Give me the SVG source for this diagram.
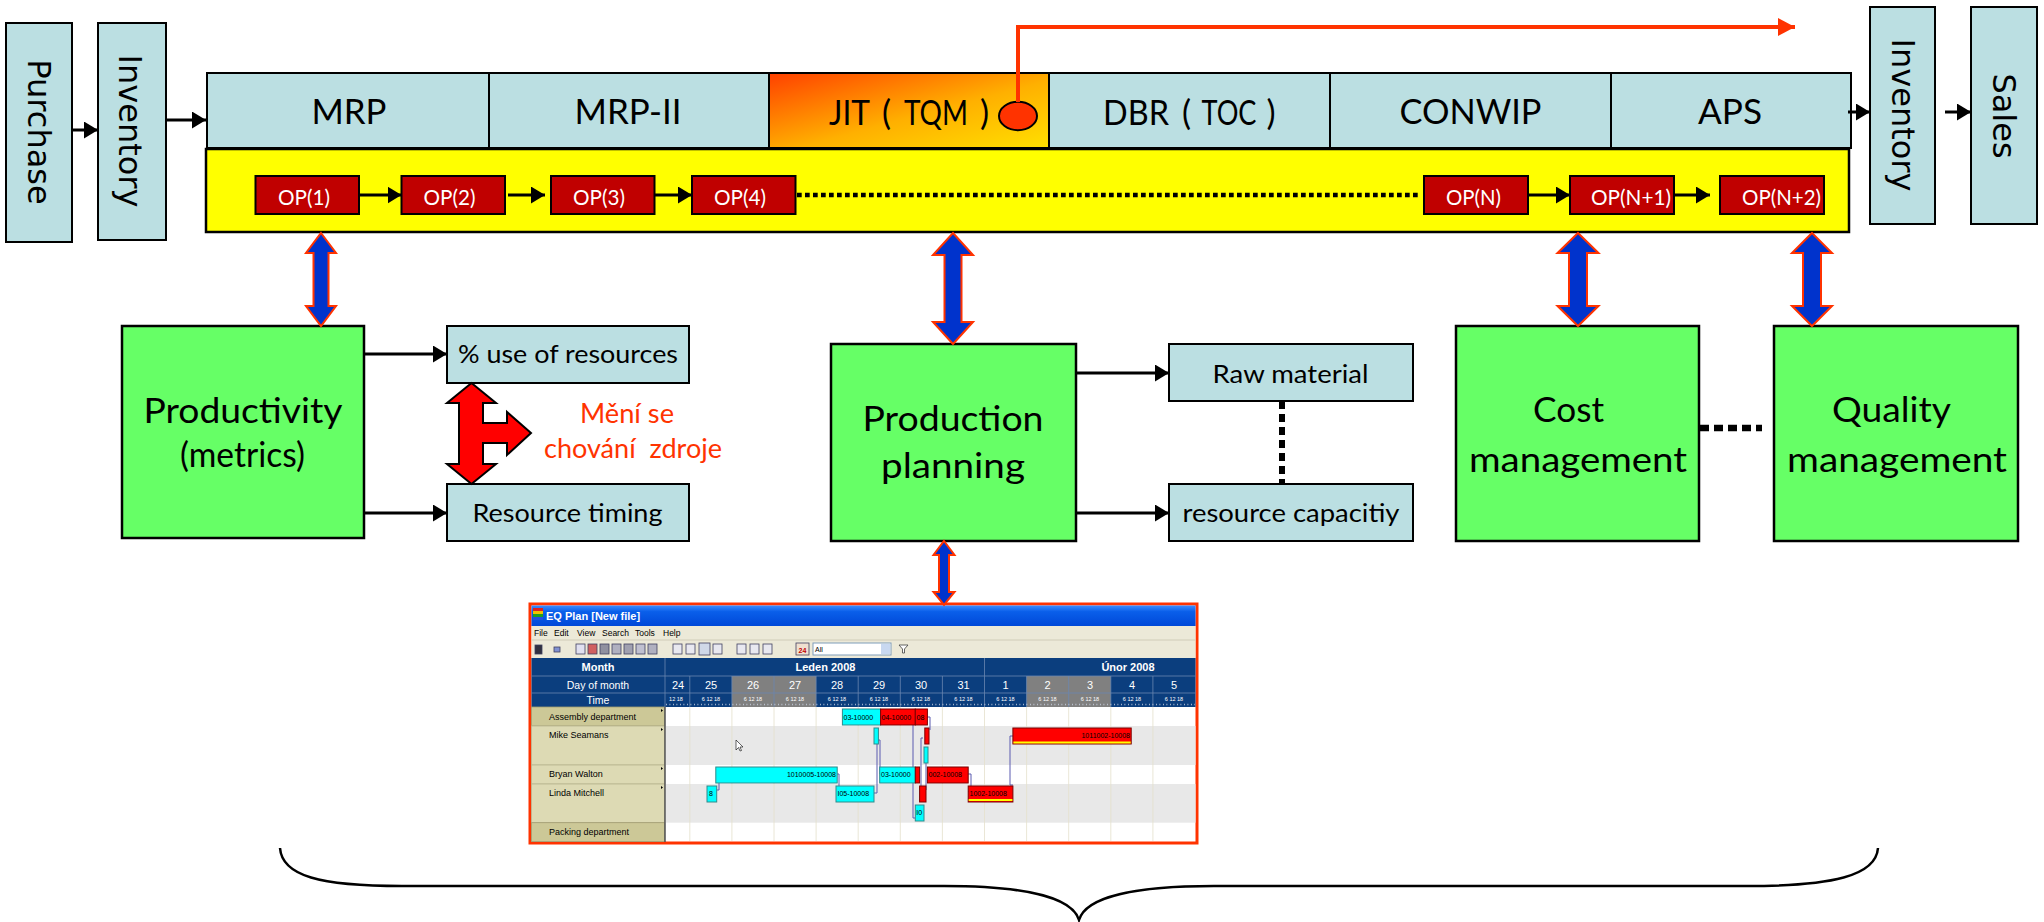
<svg xmlns="http://www.w3.org/2000/svg" width="2044" height="922" viewBox="0 0 2044 922">
<defs>
  <style>
    .lb{fill:#BBDFE2;stroke:#000;stroke-width:2}
    .gr{fill:#66FF66;stroke:#000;stroke-width:2.5}
    .op{fill:#C00000;stroke:#000;stroke-width:2}
    .opt{font-family:Lato,"Liberation Sans",sans-serif;font-size:22px;fill:#fff}
    .big{font-family:Lato,"Liberation Sans",sans-serif;font-size:34px;fill:#000}
    .mid{font-family:Lato,"Liberation Sans",sans-serif;font-size:25px;fill:#000}
    .vt{font-family:"DejaVu Sans",sans-serif;font-size:32px;fill:#000;text-anchor:middle;dominant-baseline:central}
    .blk{fill:none;stroke:#000;stroke-width:3}
    .dbl{fill:#0033CC;stroke:#FF3300;stroke-width:2}
    .ss{font-family:"Liberation Sans",Arial,sans-serif}
    .cy{fill:#00FFFF;stroke:#2E8B8B;stroke-width:1}
    .rd{fill:#FF0000;stroke:#7A0000;stroke-width:1}
    .bt{font-family:"Liberation Sans",Arial,sans-serif;font-size:7px;fill:#000}
    .lk{fill:none;stroke:#5A5AB0;stroke-width:1}
  </style>
  <marker id="ah" markerUnits="userSpaceOnUse" markerWidth="15" markerHeight="17" refX="14" refY="8.5" orient="auto">
    <path d="M0,0 L14,8.5 L0,17 z" fill="#000"/>
  </marker>
  <marker id="ahr" markerUnits="userSpaceOnUse" markerWidth="18" markerHeight="18" refX="17" refY="9" orient="auto">
    <path d="M0,0 L17,9 L0,18 z" fill="#FF3300"/>
  </marker>
  <linearGradient id="jit" x1="0" y1="0" x2="1" y2="1">
    <stop offset="0" stop-color="#FF4000"/>
    <stop offset="0.55" stop-color="#FFB000"/>
    <stop offset="1" stop-color="#FFE000"/>
  </linearGradient>
  <linearGradient id="tb" x1="0" y1="0" x2="0" y2="1">
    <stop offset="0" stop-color="#3C8CFF"/>
    <stop offset="0.3" stop-color="#0A5FEA"/>
    <stop offset="1" stop-color="#0048D8"/>
  </linearGradient>
</defs>
<rect width="2044" height="922" fill="#fff"/>

<!-- left / right stock boxes -->
<g id="purchase">
  <rect class="lb" x="6" y="23" width="66" height="219"/>
  <text class="vt" transform="translate(39,132) rotate(90)">Purchase</text>
</g>
<g id="inventory-in">
  <rect class="lb" x="98" y="23" width="68" height="217"/>
  <text class="vt" transform="translate(130,131) rotate(90)">Inventory</text>
</g>
<g id="inventory-out">
  <rect class="lb" x="1870" y="7" width="65" height="217"/>
  <text class="vt" transform="translate(1902.5,115) rotate(90)">Inventory</text>
</g>
<g id="sales">
  <rect class="lb" x="1971" y="7" width="66" height="217"/>
  <text class="vt" transform="translate(2004,116) rotate(90)">Sales</text>
</g>

<!-- top method bar -->
<g id="mrp">
  <rect class="lb" x="207" y="73" width="282" height="75"/>
  <text class="big" x="311.5" y="124" textLength="75" lengthAdjust="spacingAndGlyphs">MRP</text>
</g>
<g id="mrp2">
  <rect class="lb" x="489" y="73" width="280" height="75"/>
  <text class="big" x="574.5" y="124" textLength="107" lengthAdjust="spacingAndGlyphs">MRP-II</text>
</g>
<g id="jit-tqm">
  <rect x="769" y="73" width="280" height="75" fill="url(#jit)" stroke="#000" stroke-width="2"/>
  <text class="big" x="829" y="125" textLength="41" lengthAdjust="spacingAndGlyphs">JIT</text>
  <text class="big" x="882" y="125">(</text>
  <text class="big" x="904" y="125" font-size="28" textLength="64" lengthAdjust="spacingAndGlyphs">TQM</text>
  <text class="big" x="980" y="125">)</text>
  <ellipse cx="1018" cy="116" rx="19" ry="14.2" fill="#FF3300" stroke="#000" stroke-width="2"/>
</g>
<g id="dbr">
  <rect class="lb" x="1049" y="73" width="281" height="75"/>
  <text class="big" x="1103" y="125" textLength="66" lengthAdjust="spacingAndGlyphs">DBR</text>
  <text class="big" x="1182" y="125">(</text>
  <text class="big" x="1201.5" y="125" font-size="28" textLength="55" lengthAdjust="spacingAndGlyphs">TOC</text>
  <text class="big" x="1266.5" y="125">)</text>
</g>
<g id="conwip">
  <rect class="lb" x="1330" y="73" width="281" height="75"/>
  <text class="big" x="1399.5" y="124" textLength="142" lengthAdjust="spacingAndGlyphs">CONWIP</text>
</g>
<g id="aps">
  <rect class="lb" x="1611" y="73" width="240" height="75"/>
  <text class="big" x="1698" y="124" textLength="64" lengthAdjust="spacingAndGlyphs">APS</text>
</g>

<!-- yellow operation bar -->
<g id="operations">
  <rect x="206" y="149" width="1643" height="83" fill="#FFFF00" stroke="#000" stroke-width="2.5"/>
</g>
<g id="op1"><rect class="op" x="255.5" y="176" width="103.5" height="38"/><text class="opt" x="278" y="205" textLength="52" lengthAdjust="spacingAndGlyphs">OP(1)</text></g>
<g id="op2"><rect class="op" x="401.5" y="176" width="103.5" height="38"/><text class="opt" x="423.5" y="205" textLength="52" lengthAdjust="spacingAndGlyphs">OP(2)</text></g>
<g id="op3"><rect class="op" x="551" y="176" width="103.5" height="38"/><text class="opt" x="573" y="205" textLength="52" lengthAdjust="spacingAndGlyphs">OP(3)</text></g>
<g id="op4"><rect class="op" x="692" y="176" width="103.5" height="38"/><text class="opt" x="714" y="205" textLength="52" lengthAdjust="spacingAndGlyphs">OP(4)</text></g>
<g id="opn"><rect class="op" x="1424" y="176" width="104" height="38"/><text class="opt" x="1446" y="205" textLength="55" lengthAdjust="spacingAndGlyphs">OP(N)</text></g>
<g id="opn1"><rect class="op" x="1570" y="176" width="104" height="38"/><text class="opt" x="1591" y="205" textLength="80" lengthAdjust="spacingAndGlyphs">OP(N+1)</text></g>
<g id="opn2"><rect class="op" x="1720" y="176" width="104" height="38"/><text class="opt" x="1742" y="205" textLength="79" lengthAdjust="spacingAndGlyphs">OP(N+2)</text></g>

<!-- lower boxes -->
<g id="productivity">
  <rect class="gr" x="122" y="326" width="242" height="212"/>
  <text class="big" x="143.5" y="423" textLength="199" lengthAdjust="spacingAndGlyphs">Productivity</text>
  <text class="big" x="180" y="467" font-size="30" textLength="125" lengthAdjust="spacingAndGlyphs">(metrics)</text>
</g>
<g id="use-of-resources">
  <rect class="lb" x="447" y="326" width="242" height="57"/>
  <text class="mid" x="458" y="363" textLength="220" lengthAdjust="spacingAndGlyphs">% use of resources</text>
</g>
<g id="resource-timing">
  <rect class="lb" x="447" y="484" width="242" height="57"/>
  <text class="mid" x="472.5" y="522" textLength="190" lengthAdjust="spacingAndGlyphs">Resource timing</text>
</g>
<g id="behaviour-change">
  <polygon points="471.5,383 496,403 483,403 483,423 507,423 507,412 531,433 507,455 507,443 483,443 483,464 496,464 471.5,484 447,464 459,464 459,403 447,403" fill="#FF0000" stroke="#000" stroke-width="2"/>
  <text x="580" y="423" font-family="Lato,'Liberation Sans',sans-serif" font-size="26" fill="#FF3300" textLength="94" lengthAdjust="spacingAndGlyphs">Mění se</text>
  <text x="544" y="458" font-family="Lato,'Liberation Sans',sans-serif" font-size="26" fill="#FF3300" textLength="178" lengthAdjust="spacingAndGlyphs" xml:space="preserve">chování  zdroje</text>
</g>
<g id="production-planning">
  <rect class="gr" x="831" y="344" width="245" height="197"/>
  <text class="big" x="862.5" y="431" font-size="36" textLength="181" lengthAdjust="spacingAndGlyphs">Production</text>
  <text class="big" x="881" y="478" font-size="36" textLength="144" lengthAdjust="spacingAndGlyphs">planning</text>
</g>
<g id="raw-material">
  <rect class="lb" x="1169" y="344" width="244" height="57"/>
  <text class="mid" x="1212.5" y="383" textLength="156" lengthAdjust="spacingAndGlyphs">Raw material</text>
</g>
<g id="resource-capacity">
  <rect class="lb" x="1169" y="484" width="244" height="57"/>
  <text class="mid" x="1182.5" y="522" textLength="217" lengthAdjust="spacingAndGlyphs">resource capacitiy</text>
</g>
<g id="cost-management">
  <rect class="gr" x="1456" y="326" width="243" height="215"/>
  <text class="big" x="1533" y="422" font-size="36" textLength="71" lengthAdjust="spacingAndGlyphs">Cost</text>
  <text class="big" x="1469" y="471.5" font-size="36" textLength="218" lengthAdjust="spacingAndGlyphs">management</text>
</g>
<g id="quality-management">
  <rect class="gr" x="1774" y="326" width="244" height="215"/>
  <text class="big" x="1832" y="422" font-size="36" textLength="119" lengthAdjust="spacingAndGlyphs">Quality</text>
  <text class="big" x="1787" y="471.5" font-size="36" textLength="220" lengthAdjust="spacingAndGlyphs">management</text>
</g>

<!-- screenshot -->
<g id="eq-plan-screenshot">
  <rect x="530" y="604" width="667" height="239" fill="#fff" stroke="#FF3300" stroke-width="3"/>
  <rect x="531.5" y="605.5" width="664" height="20.5" fill="url(#tb)"/>
  <rect x="533" y="608" width="10" height="3" fill="#E02020"/>
  <rect x="533" y="611" width="10" height="3" fill="#F0C000"/>
  <rect x="533" y="614" width="10" height="3" fill="#20A020"/>
  <rect x="533" y="617" width="10" height="3" fill="#2050E0"/>
  <text class="ss" x="546" y="620" font-size="11" font-weight="bold" fill="#fff">EQ Plan [New file]</text>
  <rect x="531.5" y="626" width="664" height="32" fill="#ECE9D8"/>
  <g class="ss" font-size="8.5" fill="#000">
    <text x="534" y="636">File</text><text x="554" y="636">Edit</text><text x="577" y="636">View</text><text x="602" y="636">Search</text><text x="635" y="636">Tools</text><text x="663" y="636">Help</text>
  </g>
  <line x1="531.5" y1="640" x2="1195.5" y2="640" stroke="#D0CCB8" stroke-width="1"/>
  <g stroke="#404060" stroke-width="0.8">
    <rect x="535" y="645" width="7" height="9" fill="#303040"/>
    <rect x="554" y="647" width="6" height="5" fill="#8090D0"/>
    <rect x="576" y="644" width="9" height="10" fill="#E0E0F0"/>
    <rect x="588" y="644" width="9" height="10" fill="#D06060"/>
    <rect x="600" y="644" width="9" height="10" fill="#9090A0"/>
    <rect x="612" y="644" width="9" height="10" fill="#B0B0C0"/>
    <rect x="624" y="644" width="9" height="10" fill="#A0A0B0"/>
    <rect x="636" y="644" width="9" height="10" fill="#C0C0D0"/>
    <rect x="648" y="644" width="9" height="10" fill="#B0B0C0"/>
    <rect x="673" y="644" width="9" height="10" fill="#E8E8F0"/>
    <rect x="686" y="644" width="9" height="10" fill="#E8E8F0"/>
    <rect x="699" y="643" width="11" height="12" fill="#D0D8E8"/>
    <rect x="713" y="644" width="9" height="10" fill="#E8E8F0"/>
    <rect x="737" y="644" width="9" height="10" fill="#E8E8F0"/>
    <rect x="750" y="644" width="9" height="10" fill="#E8E8F0"/>
    <rect x="763" y="644" width="9" height="10" fill="#E8E8F0"/>
    <rect x="796" y="643" width="13" height="12" fill="#F0E0D0"/>
  </g>
  <text class="ss" x="802.5" y="652.5" font-size="7" font-weight="bold" fill="#C00000" text-anchor="middle">24</text>
  <rect x="813" y="643" width="78" height="12" fill="#fff" stroke="#7F9DB9" stroke-width="1"/>
  <rect x="881" y="644" width="9" height="10" fill="#C8D8F0"/>
  <text class="ss" x="815" y="652" font-size="7" fill="#000">All</text>
  <path d="M899,645 h9 l-3.5,4 v4 h-2 v-4 z" fill="#fff" stroke="#404040" stroke-width="0.8"/>
  <rect x="531.5" y="658" width="664" height="49" fill="#0B3E7E"/>
  <rect x="731.9" y="676" width="84.2" height="31" fill="#808080"/>
  <rect x="1026.6" y="676" width="84.2" height="31" fill="#808080"/>
  <g stroke="#6A86B0" stroke-width="0.8">
    <line x1="531.5" y1="676" x2="1195.5" y2="676"/>
    <line x1="531.5" y1="693" x2="1195.5" y2="693"/>
    <line x1="665" y1="658" x2="665" y2="707"/>
    <line x1="984.5" y1="658" x2="984.5" y2="707"/>
    <line x1="689.8" y1="676" x2="689.8" y2="707"/><line x1="731.9" y1="676" x2="731.9" y2="707"/><line x1="774" y1="676" x2="774" y2="707"/><line x1="816.1" y1="676" x2="816.1" y2="707"/><line x1="858.2" y1="676" x2="858.2" y2="707"/><line x1="900.3" y1="676" x2="900.3" y2="707"/><line x1="942.4" y1="676" x2="942.4" y2="707"/><line x1="1026.6" y1="676" x2="1026.6" y2="707"/><line x1="1068.7" y1="676" x2="1068.7" y2="707"/><line x1="1110.8" y1="676" x2="1110.8" y2="707"/><line x1="1152.9" y1="676" x2="1152.9" y2="707"/>
  </g>
  <g class="ss" fill="#fff" text-anchor="middle">
    <text x="598" y="671" font-size="11" font-weight="bold">Month</text>
    <text x="598" y="688.5" font-size="10.5">Day of month</text>
    <text x="598" y="704" font-size="10.5">Time</text>
    <text x="825.5" y="671" font-size="11" font-weight="bold">Leden 2008</text>
    <text x="1128" y="671" font-size="11" font-weight="bold">Únor 2008</text>
    <g font-size="11">
      <text x="678" y="689">24</text><text x="711" y="689">25</text><text x="753" y="689">26</text><text x="795" y="689">27</text><text x="837" y="689">28</text><text x="879" y="689">29</text><text x="921" y="689">30</text><text x="963.5" y="689">31</text><text x="1005.5" y="689">1</text><text x="1047.5" y="689">2</text><text x="1090" y="689">3</text><text x="1132" y="689">4</text><text x="1174" y="689">5</text>
    </g>
    <g font-size="5.5">
      <text x="676" y="701">12 18</text><text x="711" y="701">6 12 18</text><text x="753" y="701">6 12 18</text><text x="795" y="701">6 12 18</text><text x="837" y="701">6 12 18</text><text x="879" y="701">6 12 18</text><text x="921" y="701">6 12 18</text><text x="963.5" y="701">6 12 18</text><text x="1005.5" y="701">6 12 18</text><text x="1047.5" y="701">6 12 18</text><text x="1090" y="701">6 12 18</text><text x="1132" y="701">6 12 18</text><text x="1174" y="701">6 12 18</text>
    </g>
  </g>
  <line x1="666" y1="704.5" x2="1195" y2="704.5" stroke="#C8D0E0" stroke-width="1.5" stroke-dasharray="0.8 2.7"/>
  <rect x="666" y="726" width="529.5" height="39" fill="#E8E8E8"/>
  <rect x="666" y="784" width="529.5" height="38.7" fill="#E8E8E8"/>
  <g stroke="#E4E0CC" stroke-width="0.8">
    <line x1="689.8" y1="707" x2="689.8" y2="841"/><line x1="731.9" y1="707" x2="731.9" y2="841"/><line x1="774" y1="707" x2="774" y2="841"/><line x1="816.1" y1="707" x2="816.1" y2="841"/><line x1="858.2" y1="707" x2="858.2" y2="841"/><line x1="900.3" y1="707" x2="900.3" y2="841"/><line x1="942.4" y1="707" x2="942.4" y2="841"/><line x1="984.5" y1="707" x2="984.5" y2="841"/><line x1="1026.6" y1="707" x2="1026.6" y2="841"/><line x1="1068.7" y1="707" x2="1068.7" y2="841"/><line x1="1110.8" y1="707" x2="1110.8" y2="841"/><line x1="1152.9" y1="707" x2="1152.9" y2="841"/>
  </g>
  <rect x="531.5" y="707" width="133" height="19" fill="#CCC897" stroke="#A09C70" stroke-width="0.8"/>
  <rect x="531.5" y="726" width="133" height="39" fill="#DDDAB4" stroke="#B8B490" stroke-width="0.8"/>
  <rect x="531.5" y="765" width="133" height="19" fill="#DDDAB4" stroke="#B8B490" stroke-width="0.8"/>
  <rect x="531.5" y="784" width="133" height="38.7" fill="#DDDAB4" stroke="#B8B490" stroke-width="0.8"/>
  <rect x="531.5" y="822.7" width="133" height="18.8" fill="#CCC897" stroke="#A09C70" stroke-width="0.8"/>
  <line x1="665" y1="707" x2="665" y2="842" stroke="#505050" stroke-width="1.5"/>
  <g class="ss" font-size="9" fill="#000">
    <text x="549" y="720">Assembly department</text>
    <text x="549" y="738">Mike Seamans</text>
    <text x="549" y="777">Bryan Walton</text>
    <text x="549" y="796">Linda Mitchell</text>
    <text x="549" y="835">Packing department</text>
  </g>
  <g fill="#000">
    <path d="M661,709 l2,1.5 l-2,1.5 z"/><path d="M661,728 l2,1.5 l-2,1.5 z"/><path d="M661,767 l2,1.5 l-2,1.5 z"/><path d="M661,786 l2,1.5 l-2,1.5 z"/>
  </g>
  <polyline class="lk" points="716.7,790 719,790 719,775 716,775"/>
  <polyline class="lk" points="837,774 839,774 839,790 836,792"/>
  <polyline class="lk" points="874,793 877,793 877,738 874,738"/>
  <polyline class="lk" points="878,740 880,740 880,774"/>
  <polyline class="lk" points="913,725 913,818 915,818"/>
  <polyline class="lk" points="927,717 930,717 930,730"/>
  <polyline class="lk" points="923,738 921,738 921,800 919,800"/>
  <polyline class="lk" points="926,760 926,790"/>
  <polyline class="lk" points="968,774 971,774 971,790 968,792"/>
  <polyline class="lk" points="1013,736 1010,736 1010,785 1013,785"/>
  <rect class="cy" x="842.4" y="709" width="38.2" height="16"/><text class="bt" x="843.5" y="720">03-10000</text>
  <rect class="rd" x="880.6" y="709" width="34.7" height="16"/><text class="bt" x="881.5" y="720">04-10000</text>
  <rect class="rd" x="915.3" y="709" width="12.1" height="16"/><text class="bt" x="916.5" y="720">08</text>
  <rect class="cy" x="874" y="728" width="4.4" height="16"/>
  <rect class="rd" x="924.8" y="728" width="4.2" height="16"/>
  <rect class="cy" x="924" y="747" width="4" height="16"/>
  <rect class="rd" x="1012.9" y="728" width="118.3" height="16"/><rect x="1013.4" y="741.5" width="117.3" height="2" fill="#FFFF00"/><text class="bt" x="1130" y="738" text-anchor="end">1011002-10008</text>
  <rect class="cy" x="715.8" y="767" width="121.4" height="16"/><text class="bt" x="836" y="777" text-anchor="end">1010005-10008</text>
  <rect class="cy" x="879.7" y="767" width="35.6" height="16"/><text class="bt" x="881" y="777">03-10000</text>
  <rect class="rd" x="915.3" y="767" width="4.3" height="16"/>
  <rect class="rd" x="927.4" y="767" width="40.8" height="16"/><text class="bt" x="928.5" y="777">002-10008</text>
  <rect class="cy" x="707" y="786" width="9.7" height="16"/><text class="bt" x="709" y="796">8</text>
  <rect class="cy" x="836" y="786" width="38" height="16"/><text class="bt" x="837.5" y="796">I05-10008</text>
  <rect class="rd" x="919.6" y="786" width="6.4" height="16"/>
  <rect class="rd" x="968.2" y="786" width="44.7" height="16"/><rect x="968.7" y="799" width="43.7" height="2" fill="#FFFF00"/><text class="bt" x="969.5" y="796">1002-10008</text>
  <rect class="cy" x="915.3" y="805" width="8.7" height="16"/><text class="bt" x="916.3" y="815">I0</text>
  <polygon points="736,740 736,750 738.5,747.5 740,751 741.5,750.5 740,747 743,747" fill="#fff" stroke="#000" stroke-width="0.6"/>
</g>

<!-- brace -->
<g id="brace">
  <path d="M280,848 C282,876 320,886 402,886 L944,886 C1020,886 1072,896 1079,920 C1086,896 1138,886 1214,886 L1747,886 C1832,886 1876,876 1878,848" fill="none" stroke="#000" stroke-width="2.5"/>
</g>

<!-- connectors -->
<g id="connectors">
  <line class="blk" x1="72" y1="130" x2="98" y2="130" marker-end="url(#ah)"/>
  <line class="blk" x1="167" y1="120" x2="206" y2="120" marker-end="url(#ah)"/>
  <line class="blk" x1="1848" y1="112" x2="1870" y2="112" marker-end="url(#ah)"/>
  <line class="blk" x1="1945" y1="112" x2="1971" y2="112" marker-end="url(#ah)"/>
  <path d="M1018,102 V27 H1795" fill="none" stroke="#FF3300" stroke-width="4" marker-end="url(#ahr)"/>
  <line class="blk" x1="359" y1="195" x2="401.5" y2="195" marker-end="url(#ah)"/>
  <line class="blk" x1="508" y1="195" x2="545" y2="195" marker-end="url(#ah)"/>
  <line class="blk" x1="654.5" y1="195" x2="692" y2="195" marker-end="url(#ah)"/>
  <line x1="797" y1="195" x2="1421" y2="195" stroke="#000" stroke-width="4.5" stroke-dasharray="4.7 3.3"/>
  <line class="blk" x1="1528" y1="195" x2="1570" y2="195" marker-end="url(#ah)"/>
  <line class="blk" x1="1674" y1="195" x2="1710" y2="195" marker-end="url(#ah)"/>
  <polygon class="dbl" points="321,233 336,253 328.5,253 328.5,306 336,306 321,326 306,306 313.5,306 313.5,253 306,253"/>
  <polygon class="dbl" points="953,233 973,255 961.5,255 961.5,322 973,322 953,344 933,322 944.5,322 944.5,255 933,255"/>
  <polygon class="dbl" points="1578,233 1598.5,253 1587,253 1587,306 1598.5,306 1578,326 1557.5,306 1569,306 1569,253 1557.5,253"/>
  <polygon class="dbl" points="1812,233 1832,253 1821,253 1821,306 1832,306 1812,326 1792,306 1803,306 1803,253 1792,253"/>
  <polygon class="dbl" points="944,541 954.5,555 949,555 949,592 954.5,592 944,605 933.5,592 939,592 939,555 933.5,555"/>
  <line class="blk" x1="364" y1="354" x2="447" y2="354" marker-end="url(#ah)"/>
  <line class="blk" x1="364" y1="513" x2="447" y2="513" marker-end="url(#ah)"/>
  <line class="blk" x1="1076" y1="373" x2="1169" y2="373" marker-end="url(#ah)"/>
  <line class="blk" x1="1076" y1="513" x2="1169" y2="513" marker-end="url(#ah)"/>
  <line x1="1282" y1="401" x2="1282" y2="484" stroke="#000" stroke-width="6" stroke-dasharray="8 5"/>
  <line x1="1700" y1="428" x2="1762" y2="428" stroke="#000" stroke-width="6.5" stroke-dasharray="9 5"/>
</g>
</svg>
